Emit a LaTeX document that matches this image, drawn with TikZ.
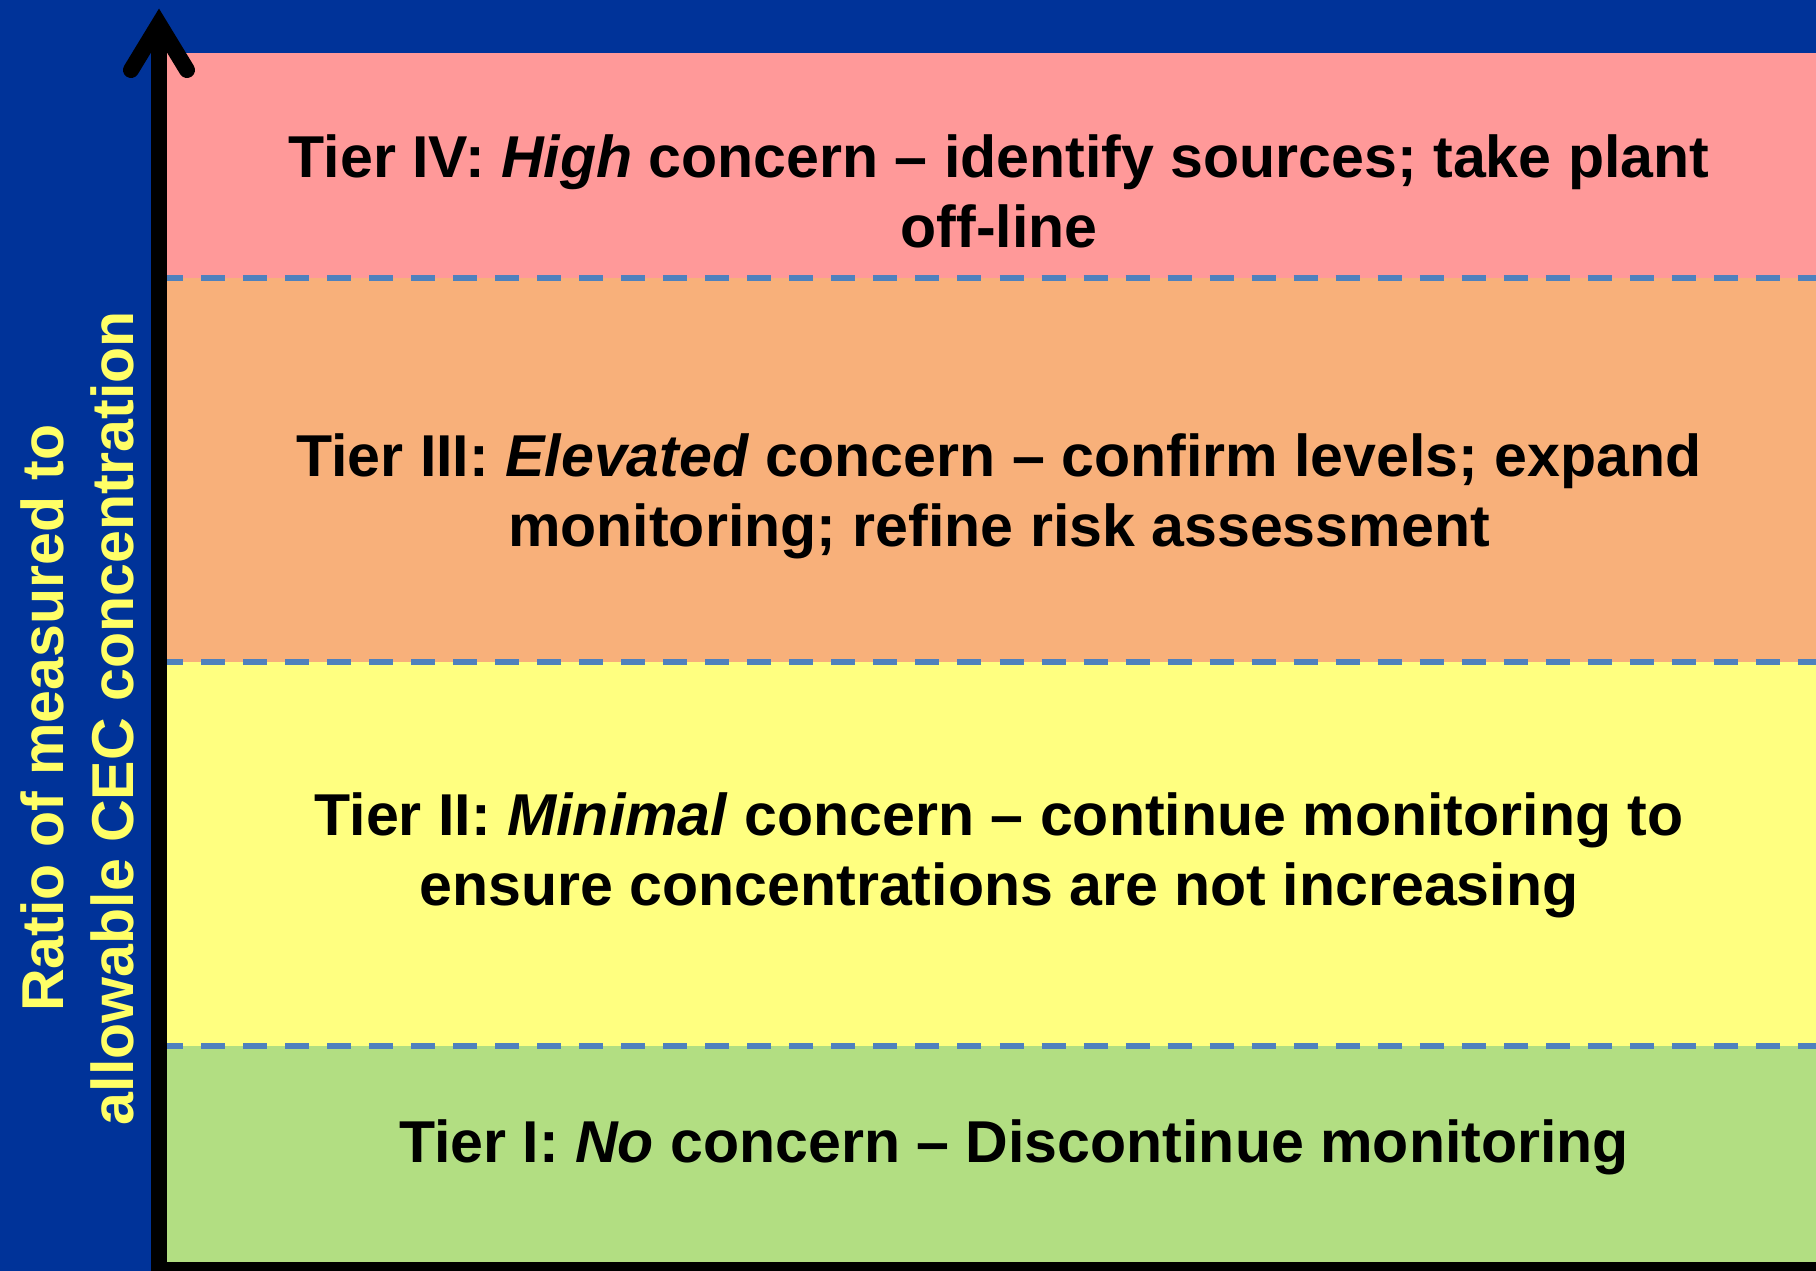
\documentclass[tikz,border=0pt]{standalone}
\usepackage{fontspec}
\setmainfont{Liberation Sans}
\usetikzlibrary{positioning}

\definecolor{slideblue}{HTML}{003399}
\definecolor{tierpink}{HTML}{FF9999}
\definecolor{tierorange}{HTML}{F8B07A}
\definecolor{tieryellow}{HTML}{FFFF80}
\definecolor{tiergreen}{HTML}{B2DE82}
\definecolor{seplinecol}{HTML}{4F81BD}
\definecolor{labelyellow}{HTML}{FFFF66}

\begin{document}
\begin{tikzpicture}[x=0.01cm, y=-0.01cm, axis/.style={draw=black, line width=0.16cm}, sepline/.style={draw=seplinecol, line width=0.06cm, dash pattern=on 0.24cm off 0.18cm}]
% Define styles for the tier texts and the axis label
\tikzstyle{tier} = [align=center, font=\fontsize{16.8}{19.9}\selectfont\bfseries, text=black, inner sep=0pt]
\tikzstyle{ylabel} = [align=center, font=\fontsize{16.8}{19.9}\selectfont\bfseries, text=labelyellow, inner sep=0pt, rotate=90]

\useasboundingbox (0,0) rectangle (1816,1271);
\fill[slideblue] (0,0) rectangle (1816,1271);

% Coloured tier bands
\fill[tierpink] (167,53) rectangle (1816,278);
\fill[tierorange] (167,278) rectangle (1816,662);
\fill[tieryellow] (167,662) rectangle (1816,1046);
\fill[tiergreen] (167,1046) rectangle (1816,1262);

% Dashed borders between the tiers
\foreach \y in {278,662,1046}
  \draw[sepline] (159,\y) -- (1816,\y);

% Axes with open arrow head
\draw[axis] (151,1270) -- (1816,1270);
\draw[axis] (159,1270) -- (159,24);
\draw[axis, line cap=round, line join=miter] (131,70) -- (159,24) -- (187,70);

% Tier texts
\node[tier] (tier4) at (999,191) {Tier IV: \textit{High} concern – identify sources; take plant\\off-line};
\node[tier] (tier3) at (999,496) {Tier III: \textit{Elevated} concern – confirm levels; expand\\monitoring; refine risk assessment};
\node[tier] (tier2) at (999,855) {Tier II: \textit{Minimal} concern – continue monitoring to\\ensure concentrations are not increasing};
\node[tier] (tier1) at (1014,1147) {Tier I: \textit{No} concern – Discontinue monitoring};

% Axis label
\node[ylabel] (ratio) at (77,718) {Ratio of measured to\\allowable CEC concentration};
\end{tikzpicture}
\end{document}
